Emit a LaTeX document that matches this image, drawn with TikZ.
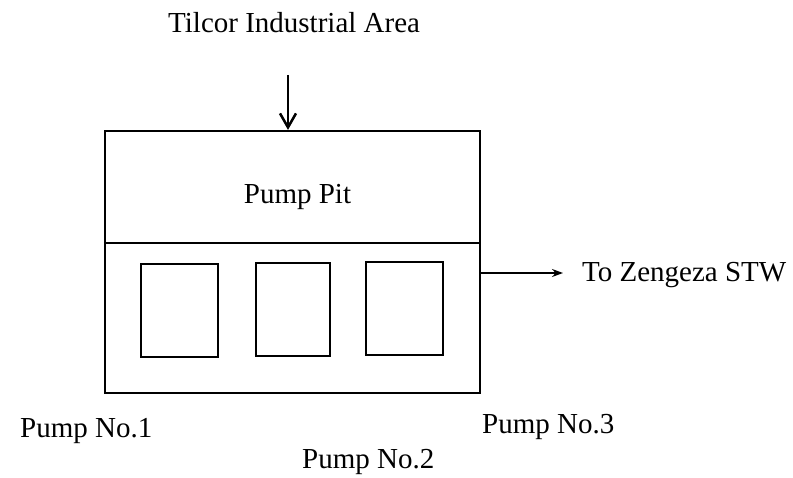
\documentclass[tikz,border=0pt]{standalone}
\usepackage{fontspec}
\setmainfont{Liberation Serif}
\usetikzlibrary{arrows.meta}
\begin{document}
\begin{tikzpicture}[x=1pt,y=-1pt,
  lbl/.style={inner sep=0pt, anchor=base west, font=\fontsize{29}{32}\selectfont},
  boxline/.style={draw, line width=2.2pt},
  pumpbox/.style={draw, line width=2.2pt, minimum height=93pt, inner sep=0pt},
  flow/.style={line width=2pt}]
\useasboundingbox (0,0) rectangle (793,478);
% outer structure
\node[boxline, minimum width=375pt, minimum height=262pt, inner sep=0pt] (outer) at (292.5,262) {};
\coordinate (div) at (0,243);
\draw[line width=1.8pt] (outer.west |- div) -- (outer.east |- div);
\node[inner sep=0pt, font=\fontsize{29}{32}\selectfont] (pit) at (297.5,197) {Pump Pit};
% pumps
\node[pumpbox, minimum width=77pt] (p1) at (179.5,310.5) {};
\node[pumpbox, minimum width=74pt] (p2) at (293,309.5) {};
\node[pumpbox, minimum width=77pt] (p3) at (404.5,308.5) {};
% labels
\node[lbl] (title) at (168,33) {Tilcor Industrial Area};
\node[lbl] (l1) at (20,437) {Pump No.1};
\node[lbl] (l2) at (302,468) {Pump No.2};
\node[lbl] (l3) at (482,433) {Pump No.3};
\node[lbl] (dest) at (582,282) {To Zengeza STW};
% connectors
\coordinate (inflow) at (288,75);
\draw[flow, -{Straight Barb[length=14pt,width=16pt,line width=2.5pt]}] (inflow) -- (inflow |- outer.north);
\coordinate (outflow) at (563,273);
\draw[flow, line width=1.6pt, -{Stealth[length=11pt,width=8pt]}] (outflow -| outer.east) -- (outflow);
\end{tikzpicture}
\end{document}
